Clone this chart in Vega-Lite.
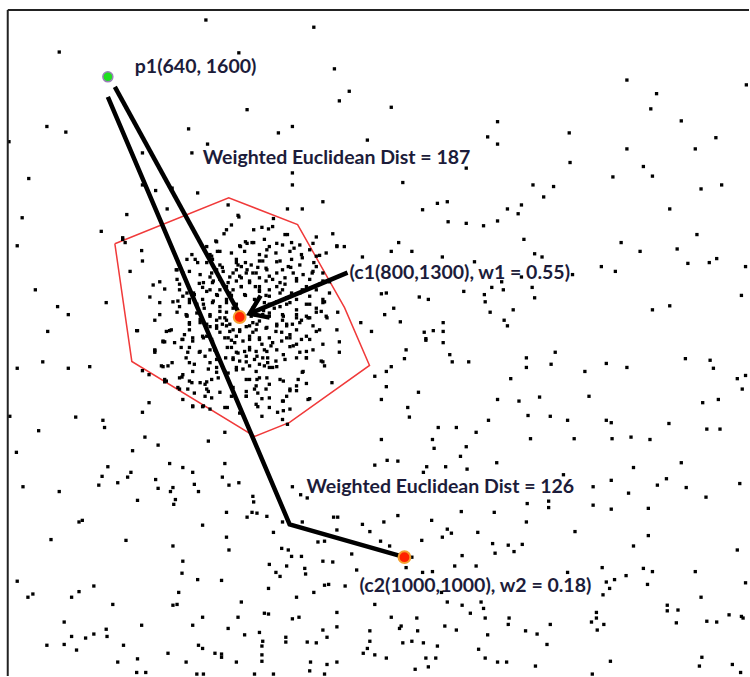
{
  "$schema": "https://vega.github.io/schema/vega-lite/v6.json",
  "width": 750,
  "height": 677,
  "padding": 0,
  "autosize": {"type": "fit", "contains": "padding"},
  "background": "white",
  "config": {"view": {"stroke": null}},
  "datasets": {
    "dots": [
      {"x":759,"y":1671},{"x":890,"y":1662},{"x":581,"y":1631},{"x":799,"y":1630},{"x":915,"y":1610},{"x":933,"y":1582},{"x":921,"y":1570},{"x":809,"y":1559},{"x":566,"y":1538},{"x":589,"y":1531},
      {"x":738,"y":1535},{"x":864,"y":1538},{"x":847,"y":1530},{"x":955,"y":1521},{"x":520,"y":1519},{"x":761,"y":1516},{"x":682,"y":1505},{"x":742,"y":1505},{"x":864,"y":1480},{"x":544,"y":1473},
      {"x":682,"y":1465},{"x":698,"y":1458},{"x":718,"y":1461},{"x":749,"y":1455},{"x":864,"y":1465},{"x":901,"y":1444},{"x":536,"y":1424},{"x":663,"y":1428},{"x":712,"y":1435},{"x":858,"y":1435},
      {"x":876,"y":1435},{"x":799,"y":1425},{"x":632,"y":1407},{"x":658,"y":1397},{"x":530,"y":1389},{"x":784,"y":1409},{"x":817,"y":1409},{"x":827,"y":1412},{"x":835,"y":1410},{"x":858,"y":1403},
      {"x":893,"y":1400},{"x":913,"y":1404},{"x":918,"y":1388},{"x":927,"y":1388},{"x":949,"y":1375},{"x":552,"y":1334},{"x":579,"y":1313},{"x":592,"y":1303},{"x":638,"y":1318},{"x":567,"y":1282},
      {"x":675,"y":1283},{"x":947,"y":1293},{"x":960,"y":1282},{"x":919,"y":1306},{"x":903,"y":1319},{"x":909,"y":1330},
      {"x":984,"y":1562},{"x":1113,"y":1544},{"x":1101,"y":1525},{"x":1113,"y":1516},{"x":1200,"y":1530},{"x":1201,"y":1493},{"x":1075,"y":1486},{"x":998,"y":1468},{"x":1156,"y":1465},{"x":1181,"y":1463},
      {"x":1169,"y":1450},{"x":1270,"y":1596},{"x":1306,"y":1579},{"x":1299,"y":1560},{"x":1336,"y":1545},{"x":1415,"y":1590},{"x":1270,"y":1510},{"x":1353,"y":1510},{"x":1378,"y":1524},{"x":1290,"y":1488},
      {"x":1301,"y":1476},{"x":1253,"y":1475},{"x":1360,"y":1460},{"x":1385,"y":1465},{"x":1022,"y":1434},{"x":1040,"y":1442},{"x":1052,"y":1444},{"x":1053,"y":1419},{"x":1075,"y":1417},{"x":1096,"y":1414},
      {"x":1113,"y":1420},{"x":1125,"y":1435},{"x":1138,"y":1429},{"x":1142,"y":1440},{"x":1322,"y":1435},{"x":1355,"y":1403},{"x":1263,"y":1393},{"x":1286,"y":1382},{"x":1331,"y":1385},{"x":1344,"y":1367},
      {"x":1370,"y":1368},{"x":1379,"y":1373},{"x":1414,"y":1363},{"x":1145,"y":1397},{"x":1158,"y":1379},{"x":1167,"y":1375},{"x":993,"y":1393},{"x":984,"y":1382},{"x":1009,"y":1382},{"x":1046,"y":1375},
      {"x":1204,"y":1353},{"x":1239,"y":1363},{"x":1256,"y":1357},{"x":1409,"y":1327},{"x":1301,"y":1309},{"x":1322,"y":1314},{"x":972,"y":1329},{"x":978,"y":1330},{"x":1018,"y":1325},{"x":1029,"y":1322},
      {"x":1072,"y":1332},{"x":1097,"y":1328},{"x":1106,"y":1337},{"x":1120,"y":1334},{"x":1098,"y":1319},{"x":1155,"y":1337},{"x":1158,"y":1324},{"x":976,"y":1303},{"x":987,"y":1311},{"x":995,"y":1294},
      {"x":1104,"y":1306},{"x":1132,"y":1309},{"x":1121,"y":1296},{"x":1125,"y":1289},{"x":1047,"y":1293},{"x":1047,"y":1282},{"x":1035,"y":1283},{"x":1024,"y":1281},{"x":1026,"y":1273},{"x":1085,"y":1369},
      {"x":1118,"y":1344},{"x":1142,"y":1350},
      {"x":561,"y":1244},{"x":530,"y":1236},{"x":592,"y":1236},{"x":618,"y":1238},{"x":682,"y":1233},{"x":690,"y":1228},{"x":709,"y":1219},{"x":697,"y":1258},{"x":690,"y":1193},{"x":682,"y":1181},
      {"x":521,"y":1176},{"x":601,"y":1175},{"x":634,"y":1171},{"x":636,"y":1162},{"x":556,"y":1158},{"x":685,"y":1150},{"x":701,"y":1140},{"x":762,"y":1145},{"x":529,"y":1131},{"x":670,"y":1133},
      {"x":640,"y":1113},{"x":715,"y":1117},{"x":731,"y":1112},{"x":743,"y":1106},{"x":782,"y":1117},{"x":668,"y":1106},{"x":633,"y":1101},{"x":664,"y":1100},{"x":652,"y":1093},{"x":629,"y":1090},
      {"x":698,"y":1097},{"x":701,"y":1086},{"x":719,"y":1087},{"x":716,"y":1082},{"x":745,"y":1091},{"x":750,"y":1082},{"x":779,"y":1100},{"x":787,"y":1090},{"x":799,"y":1093},{"x":537,"y":1088},
      {"x":581,"y":1082},{"x":676,"y":1071},{"x":722,"y":1072},{"x":720,"y":1066},{"x":816,"y":1076},{"x":817,"y":1069},{"x":784,"y":1056},{"x":809,"y":1050},{"x":815,"y":1056},{"x":821,"y":1055},
      {"x":833,"y":1051},{"x":852,"y":1044},{"x":864,"y":1088},{"x":874,"y":1078},{"x":882,"y":1074},{"x":609,"y":1046},{"x":605,"y":1044},{"x":755,"y":1040},{"x":876,"y":1044},{"x":914,"y":1050},
      {"x":919,"y":1050},{"x":949,"y":1041},{"x":958,"y":1032},{"x":918,"y":1034},{"x":841,"y":1031},{"x":571,"y":1022},{"x":662,"y":1021},{"x":784,"y":1025},{"x":719,"y":1014},{"x":787,"y":1009},
      {"x":851,"y":1011},{"x":859,"y":1009},{"x":863,"y":1001},{"x":875,"y":1001},{"x":895,"y":1019},{"x":903,"y":1020},{"x":936,"y":1004},{"x":731,"y":995},{"x":836,"y":991},{"x":857,"y":989},
      {"x":879,"y":986},{"x":901,"y":995},{"x":913,"y":994},{"x":942,"y":984},{"x":730,"y":980},{"x":844,"y":981},{"x":849,"y":976},{"x":880,"y":979},{"x":530,"y":970},{"x":749,"y":972},
      {"x":778,"y":971},{"x":623,"y":964},{"x":605,"y":957},{"x":835,"y":961},{"x":903,"y":965},{"x":908,"y":966},{"x":928,"y":964},{"x":543,"y":950},{"x":549,"y":954},{"x":596,"y":950},
      {"x":726,"y":956},{"x":890,"y":956},{"x":869,"y":950},{"x":646,"y":941},{"x":719,"y":940},{"x":724,"y":941},{"x":802,"y":944},{"x":755,"y":925},{"x":798,"y":925},{"x":830,"y":930},
      {"x":835,"y":929},{"x":864,"y":923},{"x":872,"y":925},{"x":918,"y":931},{"x":587,"y":919},{"x":681,"y":915},{"x":743,"y":915},{"x":786,"y":911},{"x":918,"y":913},{"x":901,"y":909},
      {"x":958,"y":908},{"x":638,"y":910},{"x":639,"y":901},{"x":623,"y":904},{"x":613,"y":899},{"x":596,"y":901},{"x":806,"y":903},{"x":824,"y":906},{"x":828,"y":895},{"x":856,"y":900},
      {"x":856,"y":894},{"x":906,"y":900},{"x":882,"y":894},{"x":893,"y":893},{"x":958,"y":895},{"x":566,"y":890},{"x":587,"y":891},{"x":602,"y":884},{"x":659,"y":890},{"x":750,"y":890},
      {"x":755,"y":886},{"x":827,"y":889},{"x":955,"y":886},{"x":950,"y":880},{"x":713,"y":880},{"x":770,"y":880},{"x":778,"y":879},{"x":778,"y":875},{"x":827,"y":878},{"x":827,"y":870},
      {"x":652,"y":869},{"x":676,"y":873},{"x":735,"y":869},{"x":796,"y":869},{"x":886,"y":869},{"x":906,"y":866},{"x":918,"y":869},{"x":675,"y":856},{"x":686,"y":856},{"x":748,"y":854},
      {"x":756,"y":854},{"x":818,"y":854},{"x":841,"y":854},{"x":885,"y":858},{"x":903,"y":854},
      {"x":1026,"y":1271},{"x":1047,"y":1268},{"x":1002,"y":1259},{"x":1000,"y":1248},{"x":1055,"y":1253},{"x":1058,"y":1244},{"x":1078,"y":1244},{"x":1148,"y":1249},{"x":1183,"y":1256},{"x":1148,"y":1237},
      {"x":1178,"y":1241},{"x":1245,"y":1242},{"x":1270,"y":1237},{"x":1219,"y":1232},{"x":1341,"y":1248},{"x":1371,"y":1246},{"x":1375,"y":1236},{"x":1404,"y":1223},{"x":1414,"y":1227},{"x":1410,"y":1210},
      {"x":984,"y":1238},{"x":978,"y":1232},{"x":964,"y":1226},{"x":978,"y":1213},{"x":1017,"y":1206},{"x":972,"y":1197},{"x":1129,"y":1223},{"x":1113,"y":1197},{"x":1139,"y":1195},{"x":1164,"y":1200},
      {"x":1224,"y":1201},{"x":1362,"y":1193},{"x":1381,"y":1197},{"x":1004,"y":1187},{"x":1006,"y":1175},{"x":1102,"y":1171},{"x":1150,"y":1177},{"x":1177,"y":1176},{"x":1198,"y":1171},{"x":1245,"y":1171},
      {"x":1251,"y":1168},{"x":1321,"y":1167},{"x":1041,"y":1162},{"x":1063,"y":1162},{"x":1087,"y":1156},{"x":1153,"y":1148},{"x":1206,"y":1148},{"x":1252,"y":1148},{"x":1275,"y":1150},{"x":1298,"y":1147},
      {"x":1367,"y":1160},{"x":1383,"y":1160},{"x":972,"y":1147},{"x":1034,"y":1147},{"x":1036,"y":1136},{"x":1075,"y":1138},{"x":1068,"y":1126},{"x":964,"y":1115},{"x":979,"y":1121},{"x":992,"y":1120},
      {"x":1027,"y":1113},{"x":1050,"y":1113},{"x":1076,"y":1110},{"x":1112,"y":1118},{"x":1023,"y":1106},{"x":1193,"y":1103},{"x":1278,"y":1112},{"x":1336,"y":1118},{"x":1318,"y":1098},{"x":1307,"y":1090},
      {"x":1342,"y":1087},{"x":1407,"y":1092},{"x":1251,"y":1096},{"x":1229,"y":1088},{"x":1272,"y":1080},{"x":1366,"y":1075},{"x":1149,"y":1067},{"x":1175,"y":1070},{"x":1175,"y":1062},{"x":1229,"y":1065},
      {"x":1251,"y":1060},{"x":1296,"y":1061},{"x":1069,"y":1057},{"x":1109,"y":1056},{"x":992,"y":1052},{"x":975,"y":1044},{"x":1033,"y":1046},{"x":1148,"y":1044},{"x":1052,"y":1035},{"x":1057,"y":1030},
      {"x":1046,"y":1025},{"x":1089,"y":1031},{"x":1207,"y":1032},{"x":1296,"y":1027},{"x":1021,"y":1021},{"x":971,"y":1020},{"x":982,"y":1014},{"x":1107,"y":1017},{"x":1126,"y":1015},{"x":1133,"y":1007},
      {"x":1143,"y":1016},{"x":1110,"y":1005},{"x":1278,"y":1014},{"x":1404,"y":1009},{"x":1070,"y":1002},{"x":1009,"y":1000},{"x":1002,"y":987},{"x":1022,"y":981},{"x":1034,"y":982},{"x":1061,"y":989},
      {"x":1087,"y":989},{"x":1198,"y":981},{"x":1240,"y":987},{"x":1290,"y":986},{"x":1301,"y":982},{"x":1353,"y":982},{"x":1269,"y":977},{"x":1255,"y":972},{"x":1245,"y":969},{"x":1249,"y":961},
      {"x":1241,"y":953},{"x":1295,"y":966},{"x":1414,"y":968},{"x":1045,"y":956},{"x":1052,"y":944},{"x":1070,"y":940},{"x":1093,"y":944},{"x":964,"y":941},{"x":1080,"y":930},{"x":1096,"y":936},
      {"x":1360,"y":950},{"x":1319,"y":940},{"x":1319,"y":933},{"x":1332,"y":934},{"x":984,"y":925},{"x":1015,"y":924},{"x":1127,"y":924},{"x":1126,"y":916},{"x":1098,"y":924},{"x":1177,"y":916},
      {"x":1233,"y":931},{"x":1227,"y":919},{"x":1233,"y":924},{"x":1242,"y":916},{"x":1234,"y":909},{"x":1367,"y":920},{"x":1379,"y":919},{"x":1394,"y":928},{"x":1409,"y":926},{"x":1411,"y":924},
      {"x":1330,"y":918},{"x":996,"y":914},{"x":994,"y":911},{"x":1016,"y":908},{"x":1049,"y":914},{"x":1063,"y":909},{"x":1147,"y":908},{"x":1161,"y":904},{"x":1101,"y":903},{"x":1009,"y":895},
      {"x":998,"y":893},{"x":1023,"y":893},{"x":1040,"y":889},{"x":1173,"y":891},{"x":1090,"y":885},{"x":964,"y":878},{"x":978,"y":874},{"x":1026,"y":874},{"x":1038,"y":874},{"x":1098,"y":874},
      {"x":1113,"y":869},{"x":1124,"y":869},{"x":1159,"y":864},{"x":1250,"y":870},{"x":1358,"y":864},{"x":1361,"y":875},{"x":1398,"y":866},{"x":1013,"y":860},{"x":1029,"y":863},{"x":1408,"y":856},
      {"x":1228,"y":854},
      {"x":786,"y":1440},{"x":658,"y":1399},{"x":661,"y":1393},{"x":798,"y":1427},{"x":790,"y":1415},{"x":781,"y":1404},{"x":841,"y":1423},{"x":840,"y":1413},{"x":855,"y":1403},{"x":772,"y":1394},
      {"x":807,"y":1394},{"x":815,"y":1393},{"x":800,"y":1389},{"x":830,"y":1397},{"x":845,"y":1392},{"x":863,"y":1393},{"x":873,"y":1390},{"x":918,"y":1389},{"x":681,"y":1383},{"x":760,"y":1388},
      {"x":764,"y":1378},{"x":773,"y":1382},{"x":833,"y":1384},{"x":844,"y":1380},{"x":861,"y":1382},{"x":885,"y":1384},{"x":897,"y":1377},{"x":682,"y":1370},{"x":736,"y":1372},{"x":749,"y":1368},
      {"x":767,"y":1372},{"x":796,"y":1372},{"x":807,"y":1368},{"x":828,"y":1370},{"x":845,"y":1369},{"x":863,"y":1372},{"x":876,"y":1374},{"x":890,"y":1368},{"x":667,"y":1357},{"x":724,"y":1359},
      {"x":739,"y":1357},{"x":772,"y":1359},{"x":779,"y":1362},{"x":796,"y":1359},{"x":809,"y":1359},{"x":816,"y":1355},{"x":833,"y":1359},{"x":852,"y":1359},{"x":862,"y":1362},{"x":888,"y":1355},
      {"x":703,"y":1344},{"x":695,"y":1340},{"x":724,"y":1347},{"x":764,"y":1350},{"x":767,"y":1343},{"x":776,"y":1347},{"x":788,"y":1350},{"x":802,"y":1349},{"x":812,"y":1345},{"x":824,"y":1349},
      {"x":840,"y":1347},{"x":849,"y":1343},{"x":869,"y":1348},{"x":885,"y":1347},{"x":901,"y":1345},{"x":909,"y":1344},{"x":691,"y":1325},{"x":709,"y":1335},{"x":727,"y":1334},{"x":736,"y":1330},
      {"x":755,"y":1337},{"x":764,"y":1334},{"x":776,"y":1334},{"x":784,"y":1338},{"x":792,"y":1334},{"x":802,"y":1338},{"x":824,"y":1334},{"x":836,"y":1334},{"x":852,"y":1334},{"x":863,"y":1330},
      {"x":876,"y":1334},{"x":893,"y":1334},{"x":703,"y":1318},{"x":719,"y":1319},{"x":727,"y":1313},{"x":739,"y":1322},{"x":755,"y":1322},{"x":767,"y":1318},{"x":776,"y":1313},{"x":784,"y":1322},
      {"x":796,"y":1316},{"x":845,"y":1319},{"x":857,"y":1316},{"x":869,"y":1322},{"x":885,"y":1316},{"x":901,"y":1318},{"x":703,"y":1303},{"x":724,"y":1306},{"x":736,"y":1301},{"x":764,"y":1303},
      {"x":776,"y":1299},{"x":784,"y":1306},{"x":836,"y":1301},{"x":852,"y":1303},{"x":869,"y":1299},{"x":881,"y":1301},{"x":893,"y":1306},{"x":906,"y":1299},{"x":697,"y":1296},{"x":676,"y":1283},
      {"x":715,"y":1283},{"x":709,"y":1269},{"x":736,"y":1302},{"x":739,"y":1291},{"x":752,"y":1293},{"x":764,"y":1288},{"x":772,"y":1296},{"x":779,"y":1291},{"x":788,"y":1282},{"x":808,"y":1288},
      {"x":821,"y":1291},{"x":833,"y":1287},{"x":845,"y":1291},{"x":852,"y":1296},{"x":864,"y":1291},{"x":875,"y":1296},{"x":885,"y":1299},{"x":897,"y":1284},{"x":905,"y":1301},{"x":918,"y":1284},
      {"x":730,"y":1272},{"x":743,"y":1274},{"x":755,"y":1276},{"x":767,"y":1269},{"x":782,"y":1274},{"x":796,"y":1276},{"x":812,"y":1272},{"x":824,"y":1274},{"x":840,"y":1268},{"x":857,"y":1274},
      {"x":869,"y":1266},{"x":885,"y":1272},{"x":901,"y":1266},{"x":921,"y":1269},{"x":921,"y":1256},{"x":697,"y":1256},{"x":707,"y":1269},{"x":737,"y":1256},{"x":751,"y":1256},{"x":764,"y":1259},
      {"x":785,"y":1262},{"x":796,"y":1256},{"x":812,"y":1259},{"x":821,"y":1251},{"x":833,"y":1257},{"x":845,"y":1259},{"x":861,"y":1263},{"x":873,"y":1256},{"x":881,"y":1249},{"x":901,"y":1244},
      {"x":739,"y":1243},{"x":764,"y":1243},{"x":772,"y":1247},{"x":792,"y":1247},{"x":808,"y":1244},{"x":824,"y":1241},{"x":836,"y":1237},{"x":845,"y":1238},{"x":707,"y":1238},{"x":718,"y":1243},
      {"x":709,"y":1222},{"x":730,"y":1225},{"x":742,"y":1218},{"x":760,"y":1219},{"x":772,"y":1231},{"x":782,"y":1232},{"x":796,"y":1234},{"x":808,"y":1222},{"x":821,"y":1222},{"x":833,"y":1224},
      {"x":849,"y":1222},{"x":876,"y":1231},{"x":881,"y":1217},{"x":912,"y":1218},{"x":727,"y":1210},{"x":760,"y":1210},{"x":776,"y":1206},{"x":808,"y":1201},{"x":818,"y":1210},{"x":827,"y":1198},
      {"x":861,"y":1208},{"x":869,"y":1208},{"x":885,"y":1198},{"x":852,"y":1195},{"x":755,"y":1188},{"x":764,"y":1185},{"x":785,"y":1187},{"x":822,"y":1188},{"x":861,"y":1185},{"x":827,"y":1176},
      {"x":846,"y":1181},{"x":852,"y":1172},{"x":858,"y":1166},{"x":743,"y":1188},{"x":782,"y":1156},
      {"x":790,"y":1327},{"x":807,"y":1327},{"x":818,"y":1322},{"x":830,"y":1318},{"x":816,"y":1311},{"x":829,"y":1308},{"x":842,"y":1311},{"x":773,"y":1327},{"x":757,"y":1311},{"x":748,"y":1316},
      {"x":784,"y":1296},{"x":800,"y":1284},{"x":790,"y":1271},{"x":776,"y":1281},{"x":760,"y":1276},{"x":816,"y":1281},{"x":827,"y":1266},{"x":806,"y":1257},{"x":851,"y":1281},{"x":861,"y":1278},
      {"x":751,"y":1342},{"x":745,"y":1328},{"x":819,"y":1338},{"x":832,"y":1327},{"x":857,"y":1324},{"x":798,"y":1365},{"x":822,"y":1362},{"x":752,"y":1297},{"x":770,"y":1259},{"x":783,"y":1249},
      {"x":834,"y":1249},{"x":855,"y":1247},
      {"x":771,"y":1395},{"x":801,"y":1388},{"x":809,"y":1392},{"x":817,"y":1393},{"x":836,"y":1388},{"x":852,"y":1390},{"x":866,"y":1386},{"x":889,"y":1392},{"x":742,"y":1378},{"x":766,"y":1376},
      {"x":776,"y":1382},{"x":790,"y":1380},{"x":806,"y":1382},{"x":824,"y":1378},{"x":832,"y":1376},{"x":875,"y":1378},{"x":893,"y":1376},{"x":905,"y":1380},{"x":723,"y":1359},{"x":746,"y":1372},
      {"x":760,"y":1368},{"x":776,"y":1365},{"x":796,"y":1368},{"x":802,"y":1363},{"x":814,"y":1365},{"x":824,"y":1370},{"x":832,"y":1361},{"x":849,"y":1370},{"x":859,"y":1363},{"x":873,"y":1365},
      {"x":893,"y":1363},{"x":731,"y":1355},{"x":752,"y":1353},{"x":766,"y":1355},{"x":780,"y":1357},{"x":792,"y":1355},{"x":800,"y":1351},{"x":808,"y":1355},{"x":820,"y":1355},{"x":836,"y":1351},
      {"x":845,"y":1355},{"x":855,"y":1349},{"x":865,"y":1355},{"x":877,"y":1353},{"x":889,"y":1357},{"x":901,"y":1355},{"x":727,"y":1341},{"x":756,"y":1343},{"x":768,"y":1345},{"x":786,"y":1343},
      {"x":796,"y":1345},{"x":802,"y":1338},{"x":812,"y":1343},{"x":824,"y":1338},{"x":832,"y":1345},{"x":845,"y":1338},{"x":855,"y":1341},{"x":869,"y":1345},{"x":881,"y":1338},{"x":897,"y":1341},
      {"x":731,"y":1326},{"x":744,"y":1330},{"x":760,"y":1332},{"x":772,"y":1328},{"x":788,"y":1330},{"x":806,"y":1328},{"x":824,"y":1332},{"x":836,"y":1326},{"x":849,"y":1330},{"x":857,"y":1324},
      {"x":873,"y":1330},{"x":885,"y":1326},{"x":901,"y":1322},{"x":725,"y":1320},{"x":739,"y":1318},{"x":756,"y":1316},{"x":768,"y":1320},{"x":784,"y":1318},{"x":792,"y":1311},{"x":820,"y":1318},
      {"x":836,"y":1316},{"x":849,"y":1313},{"x":861,"y":1318},{"x":869,"y":1309},{"x":881,"y":1316},{"x":893,"y":1311},{"x":735,"y":1303},{"x":748,"y":1305},{"x":764,"y":1301},{"x":776,"y":1307},
      {"x":782,"y":1299},{"x":814,"y":1301},{"x":828,"y":1303},{"x":836,"y":1305},{"x":853,"y":1301},{"x":869,"y":1303},{"x":883,"y":1299},{"x":899,"y":1307},{"x":739,"y":1293},{"x":760,"y":1291},
      {"x":772,"y":1289},{"x":788,"y":1291},{"x":816,"y":1293},{"x":824,"y":1295},{"x":845,"y":1289},{"x":857,"y":1291},{"x":873,"y":1293},{"x":889,"y":1289},
      {"x":711,"y":1282},{"x":717,"y":1284},{"x":733,"y":1278},{"x":739,"y":1284},{"x":772,"y":1286},{"x":784,"y":1289},{"x":792,"y":1284},{"x":800,"y":1282},{"x":812,"y":1289},{"x":820,"y":1284},
      {"x":832,"y":1286},{"x":844,"y":1282},{"x":857,"y":1289},{"x":869,"y":1284},{"x":893,"y":1282},{"x":881,"y":1276},{"x":707,"y":1270},{"x":721,"y":1268},{"x":731,"y":1272},{"x":743,"y":1270},
      {"x":756,"y":1274},{"x":766,"y":1272},{"x":786,"y":1274},{"x":794,"y":1268},{"x":804,"y":1270},{"x":812,"y":1276},{"x":824,"y":1272},{"x":836,"y":1274},{"x":851,"y":1270},{"x":861,"y":1274},
      {"x":875,"y":1272},{"x":697,"y":1259},{"x":729,"y":1262},{"x":739,"y":1262},{"x":752,"y":1257},{"x":770,"y":1259},{"x":790,"y":1262},{"x":798,"y":1255},{"x":812,"y":1262},{"x":820,"y":1257},
      {"x":830,"y":1259},{"x":838,"y":1264},{"x":865,"y":1264},{"x":881,"y":1257},{"x":889,"y":1259},{"x":705,"y":1239},{"x":713,"y":1239},{"x":735,"y":1249},{"x":745,"y":1241},{"x":758,"y":1251},
      {"x":792,"y":1249},{"x":800,"y":1245},{"x":808,"y":1251},{"x":818,"y":1247},{"x":828,"y":1249},{"x":834,"y":1243},{"x":844,"y":1245},{"x":853,"y":1253},{"x":869,"y":1249},{"x":881,"y":1249},
      {"x":899,"y":1245},{"x":903,"y":1239},{"x":731,"y":1228},{"x":743,"y":1232},{"x":762,"y":1235},{"x":772,"y":1237},{"x":786,"y":1230},{"x":796,"y":1237},{"x":804,"y":1235},{"x":812,"y":1239},
      {"x":820,"y":1232},{"x":830,"y":1239},{"x":840,"y":1237},{"x":877,"y":1232},{"x":711,"y":1220},{"x":727,"y":1224},{"x":739,"y":1220},{"x":752,"y":1218},{"x":766,"y":1222},{"x":774,"y":1224},
      {"x":812,"y":1222},{"x":824,"y":1224},{"x":836,"y":1216},{"x":853,"y":1220},{"x":871,"y":1222},{"x":725,"y":1212},{"x":737,"y":1210},{"x":745,"y":1205},{"x":758,"y":1216},{"x":762,"y":1207},
      {"x":792,"y":1212},{"x":808,"y":1207},{"x":820,"y":1214},{"x":832,"y":1210},{"x":861,"y":1210},{"x":869,"y":1214},{"x":731,"y":1197},{"x":758,"y":1201},{"x":766,"y":1199},{"x":790,"y":1201},
      {"x":808,"y":1201},{"x":822,"y":1205},{"x":836,"y":1199},{"x":853,"y":1195},{"x":857,"y":1201},{"x":883,"y":1197},{"x":743,"y":1189},{"x":756,"y":1189},{"x":782,"y":1187},{"x":820,"y":1191},
      {"x":836,"y":1187},{"x":853,"y":1183},{"x":800,"y":1180}
    ],
    "hull": [
      {"i":0,"x":648.5,"y":1391.6},{"i":1,"x":786.7,"y":1449.0},{"i":2,"x":870.3,"y":1415.4},{"i":3,"x":927.3,"y":1311.8},
      {"i":4,"x":957.6,"y":1239.5},{"i":5,"x":860.6,"y":1168.4},{"i":6,"x":818.2,"y":1150.9},{"i":7,"x":669.1,"y":1244.5},{"i":8,"x":648.5,"y":1391.6}
    ],
    "paths": [
      {"g":"p1-c1","i":0,"x":648.5,"y":1587.5},{"g":"p1-c1","i":1,"x":798.8,"y":1305.6},
      {"g":"p1-c2","i":0,"x":640,"y":1575},{"g":"p1-c2","i":1,"x":860.6,"y":1041.1},{"g":"p1-c2","i":2,"x":1000,"y":1000},
      {"g":"arrow","i":0,"x":930.9,"y":1355.5},{"g":"arrow","i":1,"x":812.1,"y":1304.3},
      {"g":"head","i":0,"x":825.5,"y":1326.8},{"g":"head","i":1,"x":812.1,"y":1304.3},{"g":"head","i":2,"x":836.4,"y":1299.3}
    ],
    "labels": [
      {"text":"p1(640, 1600)","x":672.7,"y":1604.9},
      {"text":"Weighted Euclidean Dist = 187","x":755.2,"y":1491.4},
      {"text":"(c1(800,1300), w1 = 0.55)","x":933.3,"y":1348.0},
      {"text":"Weighted Euclidean Dist = 126","x":881.2,"y":1079.8},
      {"text":"(c2(1000,1000), w2 = 0.18)","x":945.5,"y":956.3}
    ],
    "keys": [
      {"name":"p1","x":640,"y":1600,"kind":"point"},
      {"name":"c1","x":800,"y":1300,"kind":"centroid"},
      {"name":"c2","x":1000,"y":1000,"kind":"centroid"}
    ]
  },
  "encoding": {
    "x": {"type": "quantitative", "scale": {"domain": [509.1, 1418.2], "nice": false, "zero": false}, "axis": null},
    "y": {"type": "quantitative", "scale": {"domain": [851.6, 1696.0], "nice": false, "zero": false}, "axis": null}
  },
  "layer": [
    {
      "data": {"name": "hull"},
      "mark": {"type": "line", "color": "#f03a3a", "strokeWidth": 1.5},
      "encoding": {"x": {"field": "x"}, "y": {"field": "y"}, "order": {"field": "i"}}
    },
    {
      "data": {"name": "labels"},
      "mark": {"type": "text", "align": "left", "baseline": "alphabetic", "font": "Lato", "fontWeight": "bold", "fontSize": 19.5, "color": "#1c1c3a"},
      "encoding": {"x": {"field": "x"}, "y": {"field": "y"}, "text": {"field": "text"}}
    },
    {
      "data": {"name": "dots"},
      "mark": {"type": "point", "shape": "square", "filled": true, "size": 11, "color": "#000000", "opacity": 1},
      "encoding": {"x": {"field": "x"}, "y": {"field": "y"}}
    },
    {
      "data": {"name": "paths"},
      "mark": {"type": "line", "color": "#000000", "strokeWidth": 4.5},
      "encoding": {"x": {"field": "x"}, "y": {"field": "y"}, "detail": {"field": "g"}, "order": {"field": "i"}}
    },
    {
      "data": {"name": "keys"},
      "transform": [{"filter": "datum.kind == 'point'"}],
      "mark": {"type": "point", "shape": "circle", "filled": true, "size": 100, "color": "#1fe01f", "stroke": "#9a80b8", "strokeWidth": 1.5, "opacity": 1},
      "encoding": {"x": {"field": "x"}, "y": {"field": "y"}}
    },
    {
      "data": {"name": "keys"},
      "transform": [{"filter": "datum.kind == 'centroid'"}],
      "mark": {"type": "point", "shape": "circle", "filled": true, "size": 140, "color": "#ff2200", "stroke": "#f4a030", "strokeWidth": 2, "opacity": 1},
      "encoding": {"x": {"field": "x"}, "y": {"field": "y"}}
    },
    {
      "data": {"values": [{}]},
      "mark": {"type": "rule", "color": "#222222", "strokeWidth": 2},
      "encoding": {"x": {"datum": 518.5}, "y": {"datum": 851.6}, "y2": {"datum": 1683.5}}
    },
    {
      "data": {"values": [{}]},
      "mark": {"type": "rule", "color": "#222222", "strokeWidth": 2},
      "encoding": {"y": {"datum": 1683.5}, "x": {"datum": 518.5}, "x2": {"datum": 1418.2}}
    }
  ]
}
